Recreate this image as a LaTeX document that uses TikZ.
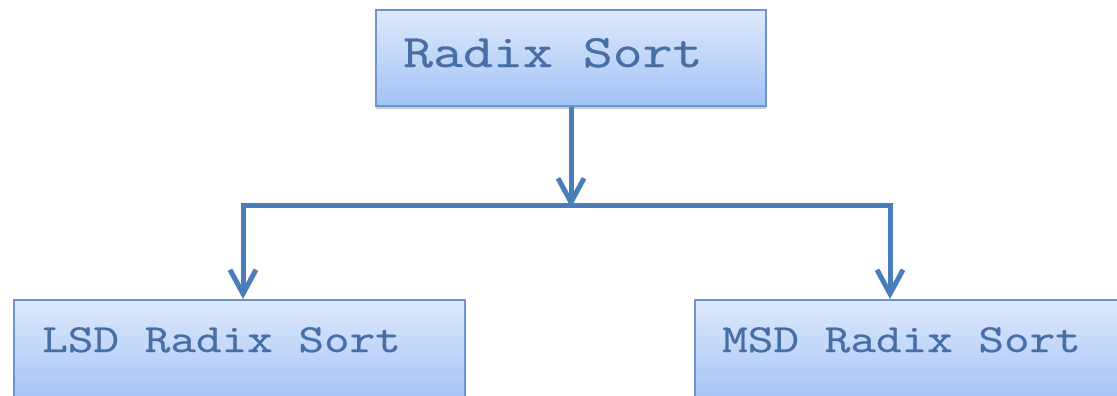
\documentclass[tikz,border=0pt]{standalone}
\usepackage{fontspec}
\setmonofont[FakeStretch=1.25,FakeBold=0.6]{Latin Modern Mono}
\usetikzlibrary{arrows.meta,shadows,calc}
\definecolor{linec}{RGB}{74,126,187}
\definecolor{boxborder}{RGB}{110,148,206}
\definecolor{boxtop}{RGB}{222,233,252}
\definecolor{boxbot}{RGB}{163,194,246}
\definecolor{txtc}{RGB}{72,110,166}
\tikzset{
  box/.style={draw=boxborder, line width=1.6pt, top color=boxtop, bottom color=boxbot, inner sep=0pt},
  shbox/.style={box, drop shadow={shadow xshift=0pt, shadow yshift=-3pt, opacity=0.35, fill=black!60}},
  lbl/.style={text=txtc, inner sep=0pt, anchor=base west},
  biglbl/.style={lbl, font=\ttfamily\fontsize{46.5}{48}\selectfont},
  smalllbl/.style={lbl, font=\ttfamily\fontsize{39.8}{42}\selectfont},
  conn/.style={draw=linec, line width=5pt, line join=miter},
  barbtip/.tip={Straight Barb[length=24pt, width=26pt, line width=5pt]}
}
\begin{document}
\begin{tikzpicture}[x=1pt,y=-1pt]
\useasboundingbox (0,0) rectangle (1117,396);
% boxes
\node[shbox, minimum width=390pt, minimum height=96pt] (root) at (571,58) {};
\node[biglbl] (rootT) at (403,67) {Radix Sort};
\node[box, minimum width=451pt, minimum height=104pt, anchor=north west] (lsd) at (13,299) {};
\node[smalllbl] (lsdT) at (42,352) {LSD Radix Sort};
\node[box, minimum width=440pt, minimum height=104pt, anchor=north west] (msd) at (694,299) {};
\node[smalllbl] (msdT) at (722,352) {MSD Radix Sort};
% connectors
\coordinate (jl) at (243,205);
\coordinate (jr) at (890,205);
\draw[conn, -{barbtip}] (root.south) -- ([yshift=-2.5pt]root.south |- jl);
\draw[conn, {barbtip}-{barbtip}] (jl |- lsd.north) -- (jl) -- (jr) -- (jr |- msd.north);
\end{tikzpicture}
\end{document}
